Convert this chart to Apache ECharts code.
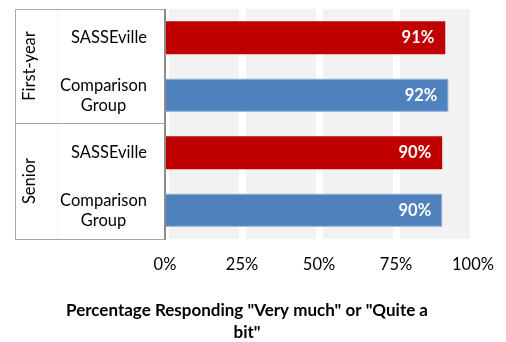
<!DOCTYPE html>
<html>
<head>
<meta charset="utf-8">
<script src="https://cdn.jsdelivr.net/npm/echarts@6/dist/echarts.min.js"></script>
<style>
html,body{margin:0;padding:0;background:#fff;}
#chart{width:506px;height:342px;}
</style>
</head>
<body>
<div id="chart"></div>
<script>
const categories = ['SASSEville', 'Comparison Group', 'SASSEville', 'Comparison Group'];
const groups = ['First-year', 'Senior'];
const values = [91, 92, 90, 90];
const xTicks = [0, 25, 50, 75, 100];
const axisTitle = 'Percentage Responding "Very much" or "Quite a\nbit"';

const FONT = 'Lato';
const FS = 16.5;
const RED = '#C00000';
const BLUE = '#4F81BD';

const chart = echarts.init(document.getElementById('chart'), null, {renderer: 'canvas'});

const seriesData = values.map((v, i) => ({
  value: v,
  itemStyle: i % 2 === 0
    ? {color: RED}
    : {color: BLUE, borderColor: '#8EB0DA', borderWidth: 1}
}));

chart.setOption({
  animation: false,
  textStyle: {fontFamily: FONT},
  grid: {
    left: 165, top: 9, width: 308, height: 230,
    show: true, backgroundColor: '#F2F2F2', borderWidth: 0
  },
  xAxis: {
    type: 'value', min: xTicks[0], max: xTicks[xTicks.length - 1], interval: 25,
    axisLine: {show: false}, axisTick: {show: false},
    axisLabel: {formatter: '{value}%', fontSize: FS, color: '#000', margin: 17, fontFamily: FONT},
    splitLine: {show: true, lineStyle: {color: '#FFFFFF', width: 7}}
  },
  yAxis: {
    type: 'category', inverse: true, data: categories,
    axisLine: {show: false}, axisTick: {show: false},
    axisLabel: {
      margin: 18, fontSize: FS, color: '#000', fontFamily: FONT, lineHeight: 20,
      formatter: function (v) {
        const parts = v.split(' ');
        if (parts.length > 1) {
          return '{c|' + parts[0] + '}\n{g|' + parts.slice(1).join(' ') + '}';
        }
        return '{c|' + v + '}';
      },
      rich: {
        c: {fontSize: FS, color: '#000', fontFamily: FONT, lineHeight: 20, align: 'right'},
        g: {fontSize: FS, color: '#000', fontFamily: FONT, lineHeight: 20, align: 'center'}
      }
    }
  },
  series: [{
    type: 'bar',
    data: seriesData,
    barWidth: 33,
    label: {
      show: true, position: 'insideRight', distance: 11,
      formatter: '{c}%', color: '#fff', fontWeight: 'bold', fontSize: FS, fontFamily: FONT
    }
  }],
  graphic: [
    {type: 'line', shape: {x1: 15, y1: 9.5, x2: 165, y2: 9.5}, style: {stroke: '#A6A6A6', lineWidth: 1}, z: 100},
    {type: 'line', shape: {x1: 15, y1: 239.5, x2: 165, y2: 239.5}, style: {stroke: '#A6A6A6', lineWidth: 1}, z: 100},
    {type: 'line', shape: {x1: 15.5, y1: 9, x2: 15.5, y2: 240}, style: {stroke: '#A6A6A6', lineWidth: 1}, z: 100},
    {type: 'line', shape: {x1: 15, y1: 123.5, x2: 165, y2: 123.5}, style: {stroke: '#A6A6A6', lineWidth: 1}, z: 100},
    {type: 'line', shape: {x1: 57.5, y1: 9, x2: 57.5, y2: 240}, style: {stroke: '#F2F2F2', lineWidth: 1}, z: 99},
    {type: 'line', shape: {x1: 165, y1: 9, x2: 165, y2: 240}, style: {stroke: '#8C8C8C', lineWidth: 2}, z: 100},
    {type: 'text', x: 30, y: 66, rotation: Math.PI / 2,
     style: {text: groups[0], font: FS + 'px ' + FONT, fill: '#000', textAlign: 'center', textVerticalAlign: 'middle'}},
    {type: 'text', x: 30, y: 181, rotation: Math.PI / 2,
     style: {text: groups[1], font: FS + 'px ' + FONT, fill: '#000', textAlign: 'center', textVerticalAlign: 'middle'}},
    {type: 'text', x: 247, y: 300,
     style: {text: axisTitle, font: 'bold 17px ' + FONT, fill: '#000', textAlign: 'center', lineHeight: 22}}
  ]
});
</script>
</body>
</html>
